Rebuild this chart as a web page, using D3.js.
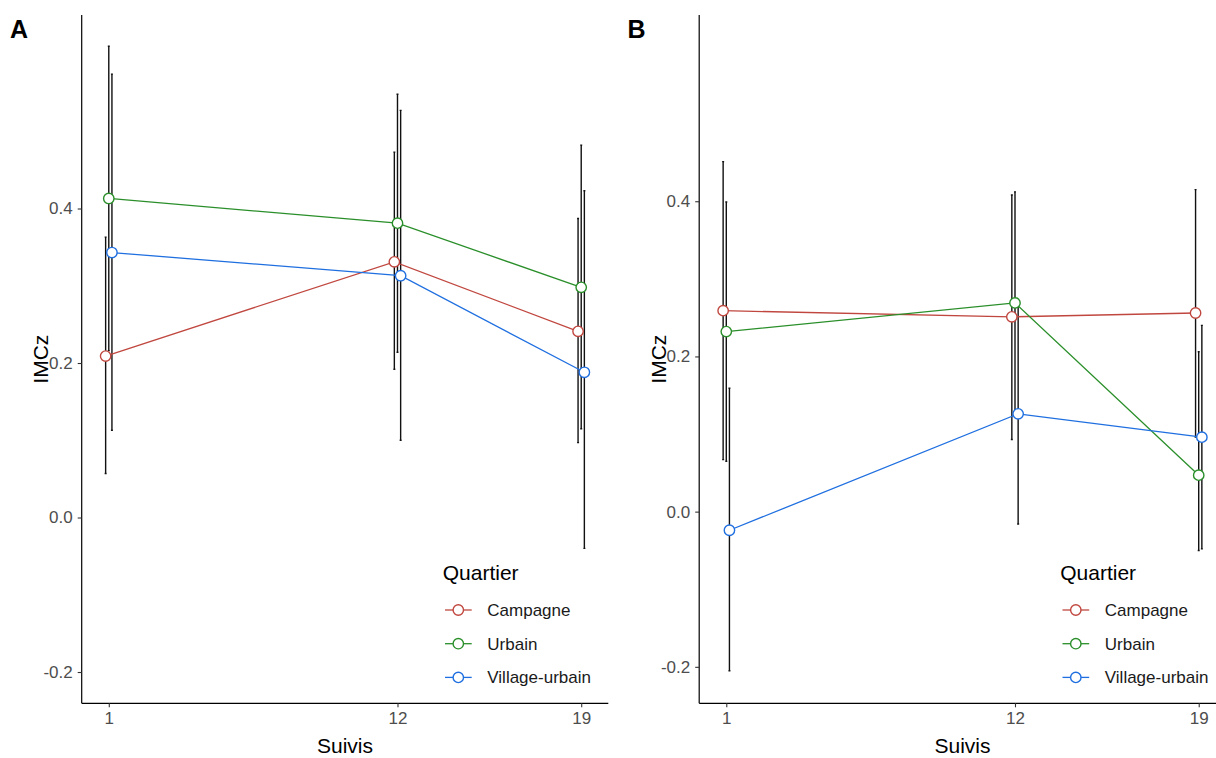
<!DOCTYPE html>
<html>
<head>
<meta charset="utf-8">
<script src="https://cdn.jsdelivr.net/npm/d3@7"></script>
<style>
  body { margin: 0; background: #fff; }
  text { font-family: "Liberation Sans", Arial, sans-serif; }
</style>
</head>
<body>
<svg id="chart"></svg>
<script>
// suivis (follow-ups) and groups
const suivis = [1, 12, 19];
const quartiers = ['Campagne', 'Urbain', 'Village-urbain'];
const couleurs = ['#c0473f', '#2a8f2a', '#1f6fe0'];
const yTicks = [-0.2, 0.0, 0.2, 0.4];

// Panel A : mean IMCz and error bar limits
const aCampagne = [0.209, 0.331, 0.241];
const aCampagneLo = [0.057, 0.192, 0.097];
const aCampagneHi = [0.363, 0.473, 0.387];
const aUrbain = [0.413, 0.381, 0.298];
const aUrbainLo = [0.216, 0.214, 0.115];
const aUrbainHi = [0.610, 0.548, 0.482];
const aVillage = [0.343, 0.313, 0.188];
const aVillageLo = [0.113, 0.100, -0.040];
const aVillageHi = [0.574, 0.527, 0.423];

// Panel B
const bCampagne = [0.259, 0.251, 0.256];
const bCampagneLo = [0.067, 0.093, 0.096];
const bCampagneHi = [0.451, 0.408, 0.415];
const bUrbain = [0.232, 0.269, 0.047];
const bUrbainLo = [0.065, 0.126, -0.050];
const bUrbainHi = [0.399, 0.412, 0.206];
const bVillage = [-0.024, 0.126, 0.096];
const bVillageLo = [-0.205, -0.016, -0.048];
const bVillageHi = [0.159, 0.267, 0.240];

const width = 1216, height = 758;
const svg = d3.select('#chart').attr('width', width).attr('height', height);

function makeSeries(means, los, his) {
  return quartiers.map((q, k) => ({
    name: q, color: couleurs[k], dodge: (k - 1) * 0.12,
    pts: suivis.map((s, i) => ({ x: s, y: means[k][i], lo: los[k][i], hi: his[k][i] }))
  }));
}

function drawPanel(offsetX, label, series, yDomain) {
  const margin = { left: 81.7, right: 608.3, top: 15, bottom: 703.3 };
  const g = svg.append('g').attr('transform', `translate(${offsetX},0)`);

  const x = d3.scaleLinear().domain([-0.032, 20.032]).range([margin.left, margin.right]);
  const y = d3.scaleLinear().domain(yDomain).range([margin.bottom, margin.top]);

  // error bars
  series.forEach(s => {
    const eb = g.append('g');
    s.pts.forEach(p => {
      const cx = x(p.x + s.dodge);
      eb.append('path')
        .attr('d', `M${cx - 1},${y(p.hi)}H${cx + 1}M${cx},${y(p.hi)}V${y(p.lo)}M${cx - 1},${y(p.lo)}H${cx + 1}`)
        .attr('fill', 'none').attr('stroke', '#111').attr('stroke-width', 1.4);
    });
  });

  // lines
  const line = d3.line().x(p => x(p.x + p.dodge)).y(p => y(p.y));
  series.forEach(s => {
    g.append('path')
      .datum(s.pts.map(p => ({ ...p, dodge: s.dodge })))
      .attr('d', line)
      .attr('fill', 'none').attr('stroke', s.color).attr('stroke-width', 1.3);
  });

  // points
  series.forEach(s => {
    g.selectAll(null).data(s.pts).enter().append('circle')
      .attr('cx', p => x(p.x + s.dodge)).attr('cy', p => y(p.y)).attr('r', 5.2)
      .attr('fill', '#fff').attr('stroke', s.color).attr('stroke-width', 1.4);
  });

  // axes
  const fmt = d => d3.format('.1f')(d).replace('\u2212', '-');
  const yAxis = g.append('g').attr('transform', `translate(${margin.left},0)`)
    .call(d3.axisLeft(y).tickValues(yTicks).tickFormat(fmt).tickSizeOuter(0).tickSize(4).tickPadding(5));
  const xAxis = g.append('g').attr('transform', `translate(0,${margin.bottom})`)
    .call(d3.axisBottom(x).tickValues(suivis).tickSizeOuter(0).tickSize(4).tickPadding(5));
  [xAxis, yAxis].forEach(ax => {
    ax.select('.domain').attr('stroke', '#000').attr('stroke-width', 1.2);
    ax.selectAll('.tick line').attr('stroke', '#333').attr('stroke-width', 1.1);
    ax.selectAll('.tick text').attr('fill', '#4d4d4d').style('font-size', '17px')
      .style('font-family', '"Liberation Sans", Arial, sans-serif');
  });
  yAxis.select('.domain').attr('d', `M0,${margin.top}V${margin.bottom}`);
  xAxis.select('.domain').attr('d', `M${margin.left},0H${margin.right}`);

  // titles
  g.append('text').attr('x', (margin.left + margin.right) / 2).attr('y', 753)
    .attr('text-anchor', 'middle').style('font-size', '21px').text('Suivis');
  g.append('text').attr('transform', `translate(48,${(margin.top + margin.bottom) / 2}) rotate(-90)`)
    .attr('text-anchor', 'middle').style('font-size', '21px').text('IMCz');
  g.append('text').attr('x', 10).attr('y', 38).style('font-size', '25px')
    .style('font-weight', 'bold').text(label);

  // legend
  const leg = g.append('g').attr('transform', 'translate(442.7,0)');
  leg.append('text').attr('x', 0).attr('y', 580).style('font-size', '21px').text('Quartier');
  const keys = leg.selectAll('.key').data(series).enter().append('g')
    .attr('transform', (d, i) => `translate(0,${610 + i * 33.7})`);
  keys.append('line').attr('x1', 2.3).attr('x2', 29).attr('y1', 0).attr('y2', 0)
    .attr('stroke', d => d.color).attr('stroke-width', 1.3);
  keys.append('circle').attr('cx', 15.6).attr('cy', 0).attr('r', 5.2)
    .attr('fill', '#fff').attr('stroke', d => d.color).attr('stroke-width', 1.4);
  keys.append('text').attr('x', 44.6).attr('y', 6).style('font-size', '17px')
    .attr('fill', '#1a1a1a').text(d => d.name);
}

drawPanel(0, 'A', makeSeries([aCampagne, aUrbain, aVillage], [aCampagneLo, aUrbainLo, aVillageLo],
  [aCampagneHi, aUrbainHi, aVillageHi]), [-0.2405, 0.6505]);
drawPanel(617.5, 'B', makeSeries([bCampagne, bUrbain, bVillage], [bCampagneLo, bUrbainLo, bVillageLo],
  [bCampagneHi, bUrbainHi, bVillageHi]), [-0.247, 0.640]);
</script>
</body>
</html>
